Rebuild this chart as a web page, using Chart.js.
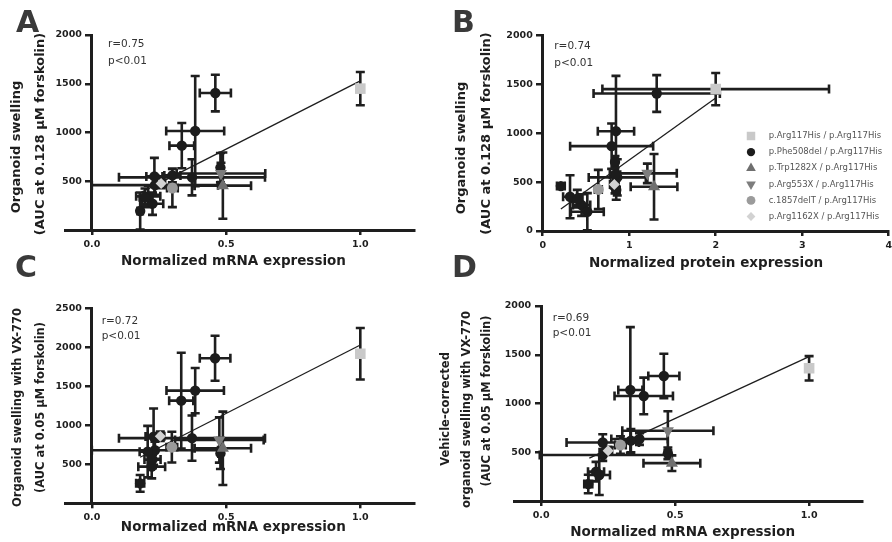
<!DOCTYPE html>
<html>
<head>
<meta charset="utf-8">
<script src="https://cdn.jsdelivr.net/npm/chart.js@4.4.1/dist/chart.umd.min.js"></script>
<style>
  html, body { margin: 0; padding: 0; background: #fff; overflow: hidden; }
  #fig { position: relative; width: 892px; height: 542px; overflow: hidden; }
  #fig canvas { position: absolute; }
</style>
</head>
<body>
<div id="fig">
  <canvas id="chartA" width="440" height="272" style="left:0;top:0"></canvas>
  <canvas id="chartB" width="460" height="272" style="left:440px;top:0"></canvas>
  <canvas id="chartC" width="440" height="292" style="left:0;top:250px"></canvas>
  <canvas id="chartD" width="472" height="292" style="left:420px;top:250px"></canvas>
</div>
<script>
// legend labels, one per genotype
const genotypes = [
  'p.Arg117His / p.Arg117His',
  'p.Phe508del / p.Arg117His',
  'p.Trp1282X / p.Arg117His',
  'p.Arg553X / p.Arg117His',
  'c.1857delT / p.Arg117His',
  'p.Arg1162X / p.Arg117His'
];

// rows: [x, y, x error, y error]
// A - mRNA vs swelling at 0.128 uM forskolin
const aHom = [[1.0, 1450, 0, 170]];
const aF508 = [
  [0.460, 1405, 0.058, 188],
  [0.385, 1015, 0.108, 565],
  [0.335, 865, 0.046, 232],
  [0.373, 540, 0.272, 185],
  [0.300, 560, 0.030, 70],
  [0.233, 550, 0.030, 190],
  [0.235, 460, 0.235, 100],
  [0.210, 345, 0.045, 110],
  [0.226, 270, 0.040, 115],
  [0.198, 335, 0.020, 90],
  [0.180, 195, 0.010, 190],
  [0.479, 640, 0.008, 150]
];
const aTrp1282X = [[0.488, 455, 0.105, 340]];
const aArg553X = [[0.481, 580, 0.165, 110]];
const aDelT = [[0.300, 430, 0.020, 195]];
const aArg1162X = [[0.258, 478, 0.015, 50]];
const aFit = [[0.18, 380], [1.0, 1530]];

// B - protein vs swelling at 0.128 uM forskolin
const bHom = [[2.0, 1450, 1.31, 165]];
const bF508 = [
  [1.318, 1405, 0.730, 188],
  [0.847, 1020, 0.210, 565],
  [0.797, 867, 0.480, 232],
  [0.862, 548, 0.330, 185],
  [0.836, 705, 0.030, 60],
  [0.836, 575, 0.060, 190],
  [0.210, 459, 0.045, 0],
  [0.316, 350, 0.080, 220],
  [0.450, 265, 0.100, 110],
  [0.400, 330, 0.060, 90],
  [0.516, 197, 0.190, 190],
  [0.850, 420, 0.040, 100]
];
const bTrp1282X = [[1.287, 452, 0.270, 335]];
const bArg553X = [[1.210, 589, 0.340, 100]];
const bDelT = [[0.643, 425, 0.040, 200]];
const bArg1162X = [[0.828, 475, 0.050, 40]];
const bFit = [[0.21, 225], [2.0, 1360]];

// C - mRNA vs swelling with VX-770
const cHom = [[1.0, 1918, 0, 330]];
const cF508 = [
  [0.459, 1860, 0.057, 288],
  [0.385, 1445, 0.107, 290],
  [0.333, 1316, 0.045, 615],
  [0.373, 835, 0.272, 290],
  [0.230, 855, 0.030, 360],
  [0.235, 680, 0.235, 110],
  [0.208, 662, 0.030, 330],
  [0.223, 470, 0.050, 150],
  [0.226, 560, 0.030, 110],
  [0.180, 256, 0.015, 107],
  [0.479, 640, 0.008, 200]
];
const cTrp1282X = [[0.488, 705, 0.105, 470]];
const cArg553X = [[0.475, 811, 0.165, 290]];
const cDelT = [[0.298, 720, 0.020, 197]];
const cArg1162X = [[0.255, 860, 0.015, 60]];
const cFit = [[0.18, 590], [1.0, 2030]];

// D - mRNA vs vehicle-corrected swelling with VX-770
const dHom = [[1.0, 1361, 0, 125]];
const dF508 = [
  [0.458, 1282, 0.058, 228],
  [0.383, 1077, 0.109, 188],
  [0.333, 1138, 0.045, 645],
  [0.367, 636, 0.105, 60],
  [0.335, 619, 0.030, 120],
  [0.230, 600, 0.135, 85],
  [0.230, 472, 0.235, 60],
  [0.205, 301, 0.030, 100],
  [0.217, 267, 0.040, 205],
  [0.176, 174, 0.015, 95],
  [0.473, 489, 0.008, 60]
];
const dTrp1282X = [[0.488, 388, 0.106, 80]];
const dArg553X = [[0.473, 721, 0.170, 200]];
const dDelT = [[0.296, 574, 0.020, 90]];
const dArg1162X = [[0.250, 516, 0.015, 40]];
const dFit = [[0.18, 440], [1.0, 1480]];

// tick labels
const mrnaTicks = [0, 0.5, 1.0];
const proteinTicks = [0, 1, 2, 3, 4];
const aYTicks = [500, 1000, 1500, 2000];
const bYTicks = [0, 500, 1000, 1500, 2000];
const cYTicks = [500, 1000, 1500, 2000, 2500];
const dYTicks = [500, 1000, 1500, 2000];

Chart.defaults.font.family = 'DejaVu Sans';

const ink = '#1e1e1e';
const markers = [
  { style: 'rect', radius: 7.5, rot: 0, color: '#c9c9c9', order: 1 },
  { style: 'circle', radius: 5.2, rot: 0, color: '#1c1c1c', order: 2 },
  { style: 'triangle', radius: 7, rot: 0, color: '#6f6f6f', order: 1 },
  { style: 'triangle', radius: 7, rot: 180, color: '#7d7d7d', order: 1 },
  { style: 'circle', radius: 5.5, rot: 0, color: '#9b9b9b', order: 1 },
  { style: 'rectRot', radius: 5.5, rot: 0, color: '#d2d2d2', order: 1 }
];

function panelDatasets(series, fit) {
  const sets = series.map((rows, i) => ({
    label: genotypes[i],
    data: rows.map(r => ({ x: r[0], y: r[1] })),
    err: rows.map(r => [r[2], r[3]]),
    pointStyle: markers[i].style,
    pointRotation: markers[i].rot,
    pointRadius: markers[i].radius,
    pointHoverRadius: markers[i].radius,
    backgroundColor: markers[i].color,
    pointBorderWidth: 0,
    order: markers[i].order
  }));
  sets.push({
    label: 'fit',
    data: fit.map(p => ({ x: p[0], y: p[1] })),
    showLine: true,
    pointRadius: 0,
    borderColor: ink,
    borderWidth: 1.3,
    order: 3
  });
  return sets;
}

// error bars with caps, drawn under the markers
const errorBars = {
  id: 'errorBars',
  beforeDatasetsDraw(chart) {
    const { ctx, chartArea: area, scales: { x, y } } = chart;
    const cap = 4.5;
    ctx.save();
    ctx.beginPath();
    ctx.rect(area.left, area.top - 6, area.width, area.height + 6);
    ctx.clip();
    ctx.strokeStyle = ink;
    ctx.lineWidth = 2.6;
    ctx.beginPath();
    const seg = (x1, y1, x2, y2) => { ctx.moveTo(x1, y1); ctx.lineTo(x2, y2); };
    chart.data.datasets.forEach(ds => {
      if (!ds.err) return;
      ds.data.forEach((p, i) => {
        const [ex, ey] = ds.err[i];
        const px = x.getPixelForValue(p.x), py = y.getPixelForValue(p.y);
        if (ex > 0) {
          const l = x.getPixelForValue(p.x - ex), r = x.getPixelForValue(p.x + ex);
          seg(l, py, r, py); seg(l, py - cap, l, py + cap); seg(r, py - cap, r, py + cap);
        }
        if (ey > 0) {
          const t = y.getPixelForValue(p.y + ey), b = y.getPixelForValue(p.y - ey);
          seg(px, t, px, b); seg(px - cap, t, px + cap, t); seg(px - cap, b, px + cap, b);
        }
      });
    });
    ctx.stroke();
    ctx.restore();
  }
};

// panel letter, axis titles and r / p notes
function panelText(t) {
  return {
    id: 'panelText',
    afterDraw(chart) {
      const ctx = chart.ctx;
      ctx.save();
      ctx.textBaseline = 'alphabetic';
      ctx.textAlign = 'left';
      ctx.fillStyle = '#3a3a3a';
      ctx.font = 'bold 30px "DejaVu Sans"';
      ctx.fillText(t.letter[0], t.letter[1], t.letter[2]);

      ctx.fillStyle = ink;
      ctx.textAlign = 'center';
      ctx.font = 'bold 13.5px "DejaVu Sans"';
      ctx.fillText(t.xTitle[0], t.xTitle[1], t.xTitle[2]);

      ctx.textBaseline = 'middle';
      ctx.font = 'bold ' + t.yFont + 'px "DejaVu Sans"';
      t.yTitle.forEach(([s, x, y]) => {
        ctx.save();
        ctx.translate(x, y);
        ctx.rotate(-Math.PI / 2);
        ctx.fillText(s, 0, 0);
        ctx.restore();
      });

      ctx.fillStyle = '#333';
      ctx.textAlign = 'left';
      ctx.font = '10.5px "DejaVu Sans"';
      t.stats.forEach(([s, x, y]) => ctx.fillText(s, x, y));
      ctx.restore();
    }
  };
}

function sideLegend(x, y, step) {
  return {
    id: 'sideLegend',
    afterDraw(chart) {
      const ctx = chart.ctx;
      ctx.save();
      chart.data.datasets.filter(ds => ds.err).forEach((ds, i) => {
        const cy = y + i * step;
        ctx.fillStyle = ds.backgroundColor;
        Chart.helpers.drawPoint(ctx, {
          pointStyle: ds.pointStyle, rotation: ds.pointRotation,
          radius: ds.pointRadius * 0.8, borderWidth: 0
        }, x, cy);
        ctx.fillStyle = '#555';
        ctx.font = '8.5px "DejaVu Sans"';
        ctx.textAlign = 'left';
        ctx.textBaseline = 'middle';
        ctx.fillText(ds.label, x + 17.7, cy);
      });
      ctx.restore();
    }
  };
}

function axisCommon() {
  return {
    grid: { drawOnChartArea: false, drawTicks: true, tickLength: 5, color: ink, lineWidth: 2.5 },
    border: { display: true, color: ink, width: 3 },
    ticks: { color: ink, font: { size: 9.5, weight: 'bold' }, padding: 4, autoSkip: false }
  };
}

function makeChart(id, cfg) {
  const xAxis = axisCommon();
  const yAxis = axisCommon();
  new Chart(document.getElementById(id), {
    type: 'scatter',
    data: { datasets: panelDatasets(cfg.series, cfg.fit) },
    options: {
      responsive: false,
      animation: false,
      layout: { padding: cfg.padding },
      plugins: { legend: { display: false }, tooltip: { enabled: false } },
      scales: {
        x: Object.assign(xAxis, {
          type: 'linear', min: cfg.xMin, max: cfg.xMax,
          afterFit: s => { s.height = 30; },
          afterBuildTicks: s => { s.ticks = cfg.xTicks.map(v => ({ value: v })); },
          ticks: Object.assign(xAxis.ticks, { callback: cfg.xFormat })
        }),
        y: Object.assign(yAxis, {
          type: 'linear', min: 0, max: cfg.yMax, position: { x: 0 },
          afterBuildTicks: s => { s.ticks = cfg.yTicks.map(v => ({ value: v })); },
          ticks: Object.assign(yAxis.ticks, { callback: v => v + '   ' })
        })
      }
    },
    plugins: [errorBars, panelText(cfg.text)].concat(cfg.legend ? [cfg.legend] : [])
  });
}

const oneDecimal = v => v.toFixed(1);
const integer = v => String(v);

makeChart('chartA', {
  series: [aHom, aF508, aTrp1282X, aArg553X, aDelT, aArg1162X], fit: aFit,
  xMin: -0.1, xMax: 1.2, xTicks: mrnaTicks, xFormat: oneDecimal,
  yMax: 2000, yTicks: aYTicks,
  padding: { left: 65, top: 35, right: 26, bottom: 12 },
  text: {
    letter: ['A', 16, 32],
    xTitle: ['Normalized mRNA expression', 233.5, 265],
    yFont: 13,
    yTitle: [['Organoid swelling', 17, 147], ['(AUC at 0.128 \u03bcM forskolin)', 41, 134]],
    stats: [['r=0.75', 108, 44], ['p<0.01', 108, 61]]
  }
});

makeChart('chartB', {
  series: [bHom, bF508, bTrp1282X, bArg553X, bDelT, bArg1162X], fit: bFit,
  xMin: 0, xMax: 4, xTicks: proteinTicks, xFormat: integer,
  yMax: 2000, yTicks: bYTicks,
  padding: { left: 102.7, top: 35.3, right: 11.3, bottom: 11 },
  text: {
    letter: ['B', 12, 32],
    xTitle: ['Normalized protein expression', 266, 267],
    yFont: 13,
    yTitle: [['Organoid swelling', 22, 148], ['(AUC at 0.128 \u03bcM forskolin)', 47, 133.5]],
    stats: [['r=0.74', 114.3, 46.7], ['p<0.01', 114.3, 63.3]]
  },
  legend: sideLegend(311, 136, 16.1)
});

makeChart('chartC', {
  series: [cHom, cF508, cTrp1282X, cArg553X, cDelT, cArg1162X], fit: cFit,
  xMin: -0.1, xMax: 1.2, xTicks: mrnaTicks, xFormat: oneDecimal,
  yMax: 2500, yTicks: cYTicks,
  padding: { left: 65, top: 58.3, right: 26, bottom: 8.7 },
  text: {
    letter: ['C', 15, 27],
    xTitle: ['Normalized mRNA expression', 233.3, 281],
    yFont: 11.5,
    yTitle: [['Organoid swelling with VX-770', 18.5, 157.5], ['(AUC at 0.05 \u03bcM forskolin)', 41.5, 157.5]],
    stats: [['r=0.72', 101.7, 71.7], ['p<0.01', 101.7, 86.7]]
  }
});

makeChart('chartD', {
  series: [dHom, dF508, dTrp1282X, dArg553X, dDelT, dArg1162X], fit: dFit,
  xMin: -0.1, xMax: 1.2, xTicks: mrnaTicks, xFormat: oneDecimal,
  yMax: 2000, yTicks: dYTicks,
  padding: { left: 94.3, top: 56, right: 29.3, bottom: 11 },
  text: {
    letter: ['D', 32, 27],
    xTitle: ['Normalized mRNA expression', 262.7, 286],
    yFont: 11.5,
    yTitle: [['Vehicle-corrected', 26, 159], ['organoid swelling with VX-770', 47.5, 159.5], ['(AUC at 0.05 \u03bcM forskolin)', 67.5, 151]],
    stats: [['r=0.69', 132.7, 68.7], ['p<0.01', 132.7, 83.7]]
  }
});
</script>
</body>
</html>
